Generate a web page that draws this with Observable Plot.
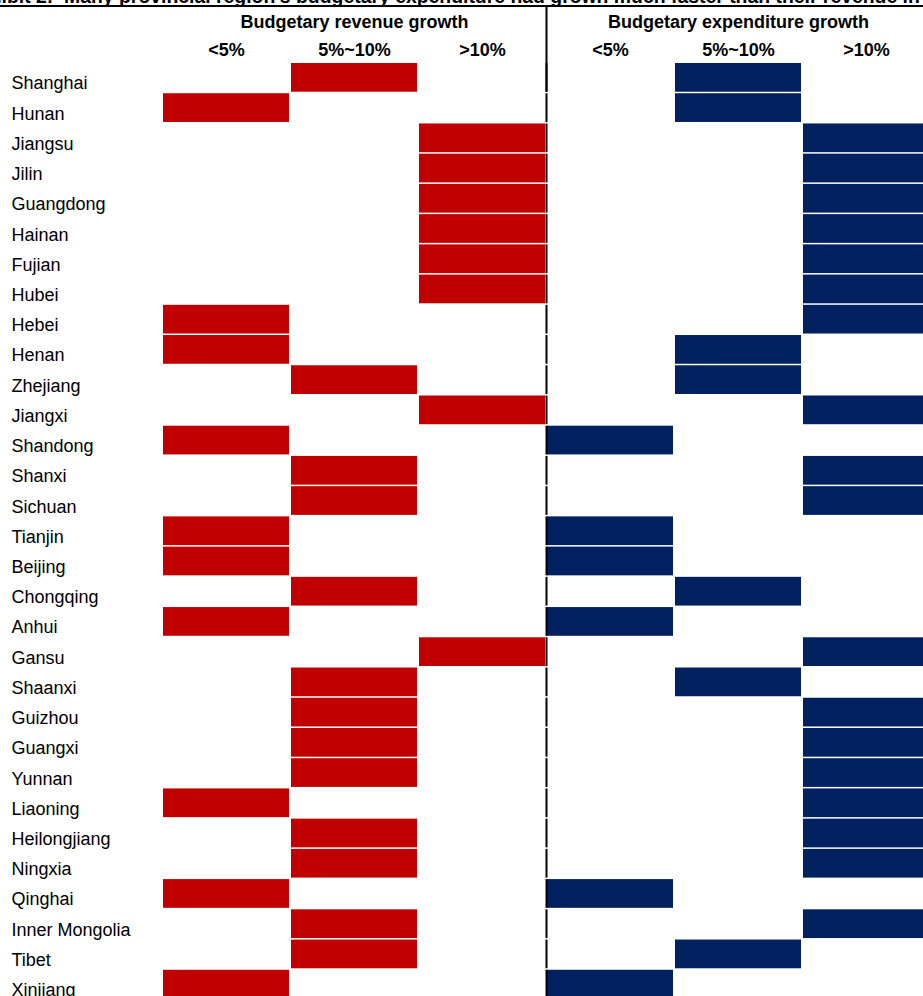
<!DOCTYPE html>
<html><head><meta charset="utf-8">
<script src="https://cdn.jsdelivr.net/npm/d3@7"></script>
<script src="https://cdn.jsdelivr.net/npm/@observablehq/plot@0.6"></script>
<style>
html,body{margin:0;padding:0;background:#fff;overflow:hidden;}
body{font-family:"Liberation Sans",Arial,sans-serif;width:923px;height:996px;position:relative;}
#title{position:absolute;z-index:2;left:-34px;top:-14px;width:1000px;height:19px;line-height:20px;font-weight:bold;font-size:19.4px;white-space:nowrap;border-bottom:2px solid #000;color:#000;}
#chart{position:absolute;z-index:1;left:0;top:0;width:930px;}
#chart svg{max-width:none !important;}
</style></head><body>
<div id="title">Exhibit 2: &nbsp;Many provincial region's budgetary expenditure had grown much faster than their revenue in 2022</div>
<div id="chart"></div>
<script>
const provinces = ["Shanghai","Hunan","Jiangsu","Jilin","Guangdong","Hainan","Fujian","Hubei","Hebei","Henan","Zhejiang","Jiangxi","Shandong","Shanxi","Sichuan","Tianjin","Beijing","Chongqing","Anhui","Gansu","Shaanxi","Guizhou","Guangxi","Yunnan","Liaoning","Heilongjiang","Ningxia","Qinghai","Inner Mongolia","Tibet","Xinjiang"];
const revenueGrowth = ["5%~10%","<5%",">10%",">10%",">10%",">10%",">10%",">10%","<5%","<5%","5%~10%",">10%","<5%","5%~10%","5%~10%","<5%","<5%","5%~10%","<5%",">10%","5%~10%","5%~10%","5%~10%","5%~10%","<5%","5%~10%","5%~10%","<5%","5%~10%","5%~10%","<5%"];
const expenditureGrowth = ["5%~10%","5%~10%",">10%",">10%",">10%",">10%",">10%",">10%",">10%","5%~10%","5%~10%",">10%","<5%",">10%",">10%","<5%","<5%","5%~10%","<5%",">10%","5%~10%",">10%",">10%",">10%",">10%",">10%",">10%","<5%",">10%","5%~10%","<5%"];
const growthBuckets = ["<5%","5%~10%",">10%"];
const groupTitles = ["Budgetary revenue growth","Budgetary expenditure growth"];
const groupColors = ["#C00000","#002060"];

const cells = [];
provinces.forEach((p, i) => {
  cells.push({province: p, group: 0, col: growthBuckets.indexOf(revenueGrowth[i])});
  cells.push({province: p, group: 1, col: 3 + growthBuckets.indexOf(expenditureGrowth[i])});
});
const colHeads = groupTitles.flatMap((g, gi) => growthBuckets.map((b, bi) => ({label: b, pos: gi * 3 + bi + 0.5})));
const groupHeads = groupTitles.map((g, gi) => ({label: g, pos: gi * 3 + 1.5}));

const chart = Plot.plot({
  width: 930, height: 1000,
  marginLeft: 162, marginRight: 0, marginTop: 63, marginBottom: 0,
  style: {fontFamily: "'Liberation Sans', Arial, sans-serif", background: "transparent", overflow: "visible", maxWidth: "none"},
  x: {domain: [0, 6], axis: null},
  y: {type: "band", domain: provinces, padding: 0, round: false, axis: null},
  marks: [
    Plot.barX(cells, {x1: "col", x2: d => d.col + 1, y: "province", fill: d => groupColors[d.group], insetLeft: 1, insetRight: 1, insetBottom: 1.5}),
    Plot.tickX(provinces, {x: () => 3, y: d => d, stroke: "#000", strokeWidth: 2, insetBottom: 1.5}),
    Plot.tickX([provinces[0]], {x: () => 3, y: d => d, stroke: "#000", strokeWidth: 2, insetTop: -57, insetBottom: 1.5}),
    Plot.text(provinces, {y: d => d, text: d => d, frameAnchor: "left", dx: -151, dy: 5, textAnchor: "start", lineAnchor: "middle", fontSize: 18, fill: "#000"}),
    Plot.text(colHeads, {x: "pos", text: "label", frameAnchor: "top", lineAnchor: "middle", dy: -13.1, fontSize: 18, fontWeight: "bold", fill: "#000"}),
    Plot.text(groupHeads, {x: "pos", text: "label", frameAnchor: "top", lineAnchor: "middle", dy: -41.1, fontSize: 18, fontWeight: "bold", fill: "#000"})
  ]
});
document.getElementById("chart").appendChild(chart);
</script>
</body></html>
